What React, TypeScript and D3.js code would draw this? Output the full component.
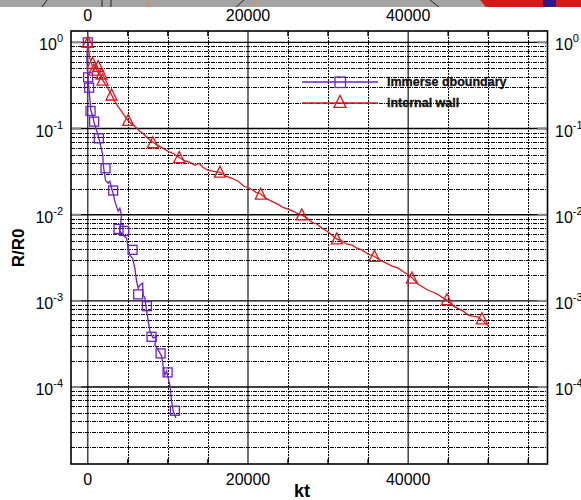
import React from "react";
import * as d3 from "d3";

const immerseKt = [0, -125, 0, 125, 250, 375, 625, 750, 1000, 1250, 1375, 1625, 1875, 1910, 2040, 2210, 2540, 2750, 2960, 3160, 3375, 3790, 4000, 4210, 4000, 4410, 4840, 5040, 5250, 5590, 5875, 6090, 6290, 6500, 6840, 6910, 7125, 7340, 7540, 7750, 8160, 8590, 8375, 8790, 9210, 9410, 9625, 9840, 10040, 10250, 10460, 10660, 11000];
const immerseR = [1, 0.652, 0.393, 0.301, 0.224, 0.163, 0.139, 0.1214, 0.1007, 0.0858, 0.0771, 0.0622, 0.049, 0.0395, 0.0319, 0.0251, 0.0232, 0.0245, 0.0203, 0.0178, 0.0143, 0.011, 0.0119, 0.00987, 0.00644, 0.00578, 0.00534, 0.00409, 0.00339, 0.00313, 0.0024, 0.00169, 0.0014, 0.00152, 0.00161, 0.00117, 0.00108, 0.00076, 0.000582, 0.000446, 0.00037, 0.00039, 0.000307, 0.000269, 0.000229, 0.000175, 0.000138, 0.000153, 0.000127, 0.000105, 0.0000688, 0.0000527, 0.0000437];
const immerseMarkKt = [0, 40, 160, 340, 790, 1375, 2210, 3160, 3840, 4540, 5590, 6290, 7375, 7960, 9090, 9960, 10875];
const immerseMarkR = [1, 0.393, 0.298, 0.16, 0.1204, 0.077, 0.0346, 0.0191, 0.00684, 0.00649, 0.00391, 0.00119, 0.000869, 0.000383, 0.000246, 0.000148, 0.0000531];

const wallKt = [0, 125, 250, 500, 750, 1000, 1250, 1500, 1625, 1875, 2125, 2375, 2625, 3000, 3375, 3750, 4125, 4625, 5000, 5500, 6000, 6500, 7000, 7500, 8125, 8750, 9375, 10000, 10625, 11375, 12000, 12750, 13375, 13875, 14375, 15000, 15750, 16500, 17250, 18000, 18750, 19500, 20250, 21000, 21625, 22250, 23000, 23750, 24375, 25000, 25625, 26125, 26750, 27375, 28000, 28625, 29250, 29875, 30500, 31125, 31750, 32375, 33000, 33625, 34250, 35000, 35750, 36500, 37250, 38000, 38750, 39500, 40125, 40500, 41250, 41875, 42500, 43125, 43625, 44250, 44875, 45500, 46125, 46875, 47500, 48000, 48750, 49250, 50000];
const wallR = [1, 0.808, 0.652, 0.556, 0.473, 0.541, 0.499, 0.449, 0.403, 0.362, 0.335, 0.309, 0.278, 0.243, 0.207, 0.181, 0.163, 0.139, 0.125, 0.112, 0.1034, 0.0929, 0.0858, 0.0771, 0.0693, 0.0639, 0.059, 0.0545, 0.0516, 0.0464, 0.0428, 0.0406, 0.0375, 0.0395, 0.0355, 0.0328, 0.0319, 0.0311, 0.028, 0.0265, 0.0245, 0.0214, 0.0203, 0.0182, 0.0173, 0.0155, 0.0143, 0.0132, 0.0122, 0.0116, 0.011, 0.0104, 0.00987, 0.00911, 0.00818, 0.00776, 0.00697, 0.00644, 0.00578, 0.0052, 0.00493, 0.00455, 0.00443, 0.00409, 0.00388, 0.00348, 0.0033, 0.00297, 0.00274, 0.00253, 0.0024, 0.00215, 0.00199, 0.00184, 0.00156, 0.00144, 0.00133, 0.00126, 0.0012, 0.0011, 0.00102, 0.000893, 0.000824, 0.00076, 0.000684, 0.000666, 0.000648, 0.000598, 0.00051];
const wallMarkKt = [0, 590, 750, 1290, 1710, 1840, 2960, 5040, 8125, 11410, 16500, 21590, 26710, 31090, 35790, 40460, 44840, 49210];
const wallMarkR = [1, 0.571, 0.477, 0.523, 0.429, 0.365, 0.245, 0.124, 0.0684, 0.046, 0.0311, 0.0173, 0.00995, 0.00524, 0.00328, 0.00184, 0.00103, 0.000619];

const xTickLabels = [0, 20000, 40000];
const xGridValues = [5000, 10000, 15000, 25000, 30000, 35000, 45000, 50000, 55000];
const decadeExps = [0, -1, -2, -3, -4];
const seriesNames = ["Immerse dboundary", "internal wall"];

const W = 581, H = 500;
const L = 71, R = 547.5, T = 31, B = 464;
const PURPLE = "#6a22cc";
const RED = "#e0161b";

export default function App() {
  const x = d3.scaleLinear().domain([-2100, 57400]).range([L, R]);
  const y = d3.scaleLog().domain([1.28e-5, 1.356]).range([B, T]);
  const line = d3.line<[number, number]>().x((d) => x(d[0])).y((d) => y(d[1]));
  const immersePts = immerseKt.map((k, i) => [k, immerseR[i]] as [number, number]);
  const wallPts = wallKt.map((k, i) => [k, wallR[i]] as [number, number]);

  const minorY: number[] = [];
  for (let e = -5; e <= 0; e++) {
    for (let k = 2; k <= 9; k++) {
      const v = k * Math.pow(10, e);
      if (v > 1.28e-5 && v < 1.356) minorY.push(v);
    }
  }
  const tri = (cx: number, cy: number, s: number) =>
    `M${cx},${cy - s * 0.55}L${cx + s / 2},${cy + s * 0.45}L${cx - s / 2},${cy + s * 0.45}Z`;

  return (
    <div style={{ position: "absolute", left: 0, top: 0 }}>
      <svg width={W} height={H} style={{ display: "block", fontFamily: "'Liberation Sans', Arial, sans-serif" }}>
        <rect x={0} y={0} width={W} height={H} fill="#fff" />
        {/* top strip artefact */}
        <rect x={0} y={0} width={W} height={7} fill="#a3a3a3" />
        <line x1={42} y1={7} x2={47} y2={0} stroke="#222" strokeWidth={1} />
        <line x1={102} y1={0} x2={102} y2={7} stroke="#222" strokeWidth={1} />
        <line x1={111} y1={0} x2={111} y2={7} stroke="#222" strokeWidth={1} />
        <line x1={148} y1={0} x2={148} y2={7} stroke="#f08a2a" strokeWidth={1} />
        <line x1={236} y1={7} x2={244} y2={0} stroke="#222" strokeWidth={1} />
        <line x1={252} y1={7} x2={257} y2={0} stroke="#f08a2a" strokeWidth={1} />
        <line x1={430} y1={0} x2={439} y2={7} stroke="#222" strokeWidth={1} />
        <path d="M480,0L581,0L581,7L486,7Z" fill="#d81818" />
        <rect x={543} y={0} width={13} height={7} fill="#2a1a8a" />

        {/* horizontal grid */}
        {minorY.map((v, i) => (
          <line key={"my" + i} x1={L} x2={R} y1={Math.round(y(v)) + 0.5} y2={Math.round(y(v)) + 0.5} stroke="#000" strokeWidth={1} strokeDasharray="4,1,1,1" shapeRendering="crispEdges" />
        ))}
        {decadeExps.map((e) => (
          <line key={"dy" + e} x1={L} x2={R} y1={y(Math.pow(10, e))} y2={y(Math.pow(10, e))} stroke="#000" strokeWidth={1.4} />
        ))}
        {/* vertical grid */}
        {xGridValues.map((v) => (
          <line key={"vx" + v} x1={Math.round(x(v)) + 0.5} x2={Math.round(x(v)) + 0.5} y1={T} y2={B} stroke="#000" strokeWidth={1.5} strokeDasharray="1.5,1.5" shapeRendering="crispEdges" />
        ))}
        {xTickLabels.map((v) => (
          <line key={"mx" + v} x1={x(v)} x2={x(v)} y1={T} y2={B} stroke="#000" strokeWidth={1.1} />
        ))}
        {/* ticks */}
        {xGridValues.map((v) => (
          <g key={"tx" + v}>
            <line x1={x(v)} x2={x(v)} y1={B} y2={B - 5} stroke="#000" strokeWidth={1.5} />
            <line x1={x(v)} x2={x(v)} y1={T} y2={T + 5} stroke="#000" strokeWidth={1.5} />
          </g>
        ))}
        {decadeExps.map((e) => (
          <g key={"ty" + e}>
            <line x1={L} x2={L + 10} y1={y(Math.pow(10, e))} y2={y(Math.pow(10, e))} stroke="#888" strokeWidth={2} />
            <line x1={R - 10} x2={R} y1={y(Math.pow(10, e))} y2={y(Math.pow(10, e))} stroke="#888" strokeWidth={2} />
          </g>
        ))}

        {/* series lines */}
        <path d={line(immersePts) || ""} fill="none" stroke={PURPLE} strokeWidth={1.3} />
        <path d={line(wallPts) || ""} fill="none" stroke={RED} strokeWidth={1.3} />
        {immerseMarkKt.map((k, i) => (
          <rect key={"im" + i} x={x(k) - 4.5} y={y(immerseMarkR[i]) - 4.5} width={9} height={9} fill="none" stroke={PURPLE} strokeWidth={1.3} />
        ))}
        {wallMarkKt.map((k, i) => (
          <path key={"wm" + i} d={tri(x(k), y(wallMarkR[i]), 11)} fill="none" stroke={RED} strokeWidth={1.3} />
        ))}

        {/* frame */}
        <rect x={L} y={T} width={R - L} height={B - T} fill="none" stroke="#000" strokeWidth={1.6} />

        {/* x tick labels */}
        {xTickLabels.map((v) => (
          <g key={"xl" + v}>
            <text x={x(v)} y={21} fontSize={16} textAnchor="middle" fill="#000">{v}</text>
            <text x={x(v)} y={485} fontSize={16} textAnchor="middle" fill="#000">{v}</text>
          </g>
        ))}
        {/* y tick labels */}
        {decadeExps.map((e) => (
          <g key={"yl" + e}>
            <text x={63} y={y(Math.pow(10, e)) + 8} fontSize={16} textAnchor="end" fill="#000">
              10<tspan dy={-8} fontSize={11}>{e}</tspan>
            </text>
            <text x={555} y={y(Math.pow(10, e)) + 8} fontSize={16} textAnchor="start" fill="#000">
              10<tspan dy={-8} fontSize={11}>{e}</tspan>
            </text>
          </g>
        ))}

        {/* axis titles */}
        <text x={302} y={497} fontSize={18} fontWeight="bold" textAnchor="middle" fill="#000">kt</text>
        <text transform="translate(24,248) rotate(-90)" fontSize={17} fontWeight="bold" textAnchor="middle" fill="#000">R/R0</text>

        {/* legend */}
        <line x1={302} x2={378} y1={82} y2={82} stroke={PURPLE} strokeWidth={1.3} />
        <rect x={335} y={77} width={10.5} height={10.5} fill="none" stroke={PURPLE} strokeWidth={1.3} />
        <line x1={302} x2={378} y1={103} y2={103} stroke={RED} strokeWidth={1.3} />
        <path d={tri(340, 102, 12)} fill="none" stroke={RED} strokeWidth={1.3} />
        <text x={387} y={86} fontSize={12.5} fontWeight="bold" fill="#111" stroke="#111" strokeWidth={0.3}>{seriesNames[0]}</text>
        <text x={387} y={107} fontSize={12.5} fontWeight="bold" fill="#111" stroke="#111" strokeWidth={0.3}>{seriesNames[1]}</text>
      </svg>
    </div>
  );
}
